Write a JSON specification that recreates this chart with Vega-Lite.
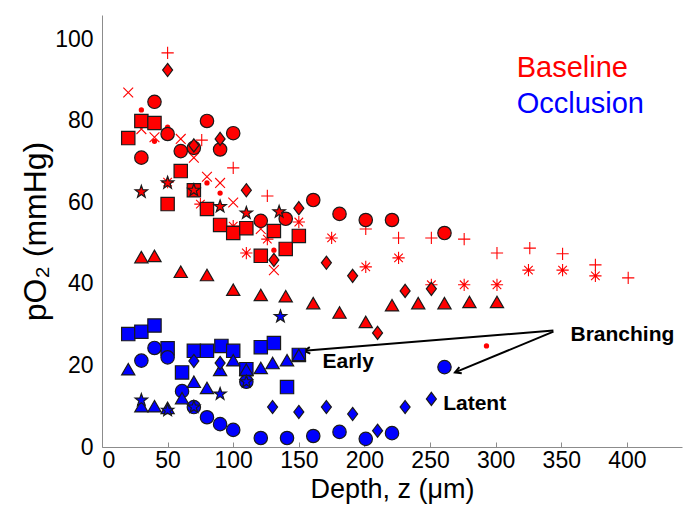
{
  "$schema": "https://vega.github.io/schema/vega-lite/v6.json",
  "autosize": "none",
  "width": 580,
  "height": 432,
  "padding": {"left": 102, "top": 15, "right": 4, "bottom": 70},
  "background": "white",
  "config": {"view": {"stroke": null}, "font": "Liberation Sans"},
  "datasets": {
    "pts": [
      {"group":"Baseline","marker":"circle","x":30,"y":71},
      {"group":"Baseline","marker":"circle","x":40,"y":84.7},
      {"group":"Baseline","marker":"circle","x":50,"y":76.8},
      {"group":"Baseline","marker":"circle","x":60,"y":72.6},
      {"group":"Baseline","marker":"circle","x":70,"y":73.4},
      {"group":"Baseline","marker":"circle","x":80,"y":80},
      {"group":"Baseline","marker":"circle","x":90,"y":73},
      {"group":"Baseline","marker":"circle","x":100,"y":77},
      {"group":"Baseline","marker":"circle","x":121,"y":55.5},
      {"group":"Baseline","marker":"circle","x":140,"y":56},
      {"group":"Baseline","marker":"circle","x":161,"y":60.6},
      {"group":"Baseline","marker":"circle","x":181,"y":57.2},
      {"group":"Baseline","marker":"circle","x":201,"y":55.7},
      {"group":"Baseline","marker":"circle","x":221,"y":55.7},
      {"group":"Baseline","marker":"circle","x":261,"y":52.5},
      {"group":"Baseline","marker":"square","x":20,"y":75.8},
      {"group":"Baseline","marker":"square","x":30,"y":80},
      {"group":"Baseline","marker":"square","x":40,"y":79.5},
      {"group":"Baseline","marker":"square","x":50,"y":59.6},
      {"group":"Baseline","marker":"square","x":60,"y":67.7},
      {"group":"Baseline","marker":"square","x":70,"y":63},
      {"group":"Baseline","marker":"square","x":80,"y":58.4},
      {"group":"Baseline","marker":"square","x":90,"y":54.5},
      {"group":"Baseline","marker":"square","x":100,"y":52.5},
      {"group":"Baseline","marker":"square","x":110,"y":53.7},
      {"group":"Baseline","marker":"square","x":121,"y":46.9},
      {"group":"Baseline","marker":"square","x":131,"y":53},
      {"group":"Baseline","marker":"square","x":140,"y":48.6},
      {"group":"Baseline","marker":"square","x":150,"y":51.8},
      {"group":"Baseline","marker":"triangle","x":30,"y":46.6},
      {"group":"Baseline","marker":"triangle","x":40,"y":46.9},
      {"group":"Baseline","marker":"triangle","x":60,"y":43},
      {"group":"Baseline","marker":"triangle","x":80,"y":42.2},
      {"group":"Baseline","marker":"triangle","x":100,"y":38.6},
      {"group":"Baseline","marker":"triangle","x":121,"y":37.3},
      {"group":"Baseline","marker":"triangle","x":140,"y":37},
      {"group":"Baseline","marker":"triangle","x":161,"y":35.3},
      {"group":"Baseline","marker":"triangle","x":181,"y":33},
      {"group":"Baseline","marker":"triangle","x":201,"y":30.7},
      {"group":"Baseline","marker":"triangle","x":221,"y":34.8},
      {"group":"Baseline","marker":"triangle","x":241,"y":35.3},
      {"group":"Baseline","marker":"triangle","x":261,"y":35.3},
      {"group":"Baseline","marker":"triangle","x":280,"y":35.6},
      {"group":"Baseline","marker":"triangle","x":301,"y":35.6},
      {"group":"Baseline","marker":"diamond","x":50,"y":92.5},
      {"group":"Baseline","marker":"diamond","x":70,"y":74},
      {"group":"Baseline","marker":"diamond","x":90,"y":75.6},
      {"group":"Baseline","marker":"diamond","x":110,"y":63},
      {"group":"Baseline","marker":"diamond","x":131,"y":45.9},
      {"group":"Baseline","marker":"diamond","x":150,"y":58.6},
      {"group":"Baseline","marker":"diamond","x":171,"y":45.2},
      {"group":"Baseline","marker":"diamond","x":191,"y":42},
      {"group":"Baseline","marker":"diamond","x":210,"y":28},
      {"group":"Baseline","marker":"diamond","x":231,"y":38.3},
      {"group":"Baseline","marker":"diamond","x":251,"y":38.8},
      {"group":"Baseline","marker":"star","x":30,"y":62.6},
      {"group":"Baseline","marker":"star","x":50,"y":64.8},
      {"group":"Baseline","marker":"star","x":70,"y":63},
      {"group":"Baseline","marker":"star","x":90,"y":59},
      {"group":"Baseline","marker":"star","x":110,"y":57.4},
      {"group":"Baseline","marker":"star","x":135,"y":57.7},
      {"group":"Baseline","marker":"plus","x":50,"y":96.7},
      {"group":"Baseline","marker":"plus","x":76,"y":75.3},
      {"group":"Baseline","marker":"plus","x":100,"y":68.5},
      {"group":"Baseline","marker":"plus","x":126,"y":61.6},
      {"group":"Baseline","marker":"plus","x":201,"y":53.5},
      {"group":"Baseline","marker":"plus","x":226,"y":51.3},
      {"group":"Baseline","marker":"plus","x":251,"y":51.3},
      {"group":"Baseline","marker":"plus","x":276,"y":51},
      {"group":"Baseline","marker":"plus","x":301,"y":47.6},
      {"group":"Baseline","marker":"plus","x":326,"y":48.8},
      {"group":"Baseline","marker":"plus","x":351,"y":47.4},
      {"group":"Baseline","marker":"plus","x":376,"y":44.7},
      {"group":"Baseline","marker":"plus","x":401,"y":41.5},
      {"group":"Baseline","marker":"cross","x":20,"y":87},
      {"group":"Baseline","marker":"cross","x":30,"y":78},
      {"group":"Baseline","marker":"cross","x":40,"y":76},
      {"group":"Baseline","marker":"cross","x":60,"y":75.6},
      {"group":"Baseline","marker":"cross","x":70,"y":71},
      {"group":"Baseline","marker":"cross","x":80,"y":66.3},
      {"group":"Baseline","marker":"cross","x":90,"y":64.8},
      {"group":"Baseline","marker":"cross","x":100,"y":60},
      {"group":"Baseline","marker":"cross","x":121,"y":53.5},
      {"group":"Baseline","marker":"cross","x":131,"y":43.4},
      {"group":"Baseline","marker":"asterisk","x":50,"y":65},
      {"group":"Baseline","marker":"asterisk","x":75,"y":59.6},
      {"group":"Baseline","marker":"asterisk","x":100,"y":54.2},
      {"group":"Baseline","marker":"asterisk","x":110,"y":47.6},
      {"group":"Baseline","marker":"asterisk","x":126,"y":51},
      {"group":"Baseline","marker":"asterisk","x":150,"y":55.2},
      {"group":"Baseline","marker":"asterisk","x":175,"y":51.3},
      {"group":"Baseline","marker":"asterisk","x":201,"y":44.2},
      {"group":"Baseline","marker":"asterisk","x":226,"y":46.4},
      {"group":"Baseline","marker":"asterisk","x":251,"y":39.8},
      {"group":"Baseline","marker":"asterisk","x":276,"y":39.8},
      {"group":"Baseline","marker":"asterisk","x":301,"y":39.8},
      {"group":"Baseline","marker":"asterisk","x":325,"y":43.4},
      {"group":"Baseline","marker":"asterisk","x":351,"y":43.4},
      {"group":"Baseline","marker":"asterisk","x":376,"y":42},
      {"group":"Baseline","marker":"dot","x":30,"y":82.7},
      {"group":"Baseline","marker":"dot","x":40,"y":75},
      {"group":"Baseline","marker":"dot","x":50,"y":78.5},
      {"group":"Baseline","marker":"dot","x":80,"y":64.8},
      {"group":"Baseline","marker":"dot","x":90,"y":62.3},
      {"group":"Baseline","marker":"dot","x":131,"y":48.3},
      {"group":"Baseline","marker":"dot","x":293,"y":24.8},
      {"group":"Occlusion","marker":"square","x":20,"y":27.7},
      {"group":"Occlusion","marker":"square","x":30,"y":28.3},
      {"group":"Occlusion","marker":"square","x":40,"y":29.8},
      {"group":"Occlusion","marker":"square","x":50,"y":24.2},
      {"group":"Occlusion","marker":"square","x":61,"y":18.3},
      {"group":"Occlusion","marker":"square","x":70,"y":23.6},
      {"group":"Occlusion","marker":"square","x":80,"y":23.6},
      {"group":"Occlusion","marker":"square","x":91,"y":24.8},
      {"group":"Occlusion","marker":"square","x":100,"y":23.6},
      {"group":"Occlusion","marker":"square","x":110,"y":19.1},
      {"group":"Occlusion","marker":"square","x":121,"y":24.5},
      {"group":"Occlusion","marker":"square","x":131,"y":25.5},
      {"group":"Occlusion","marker":"square","x":141,"y":14.7},
      {"group":"Occlusion","marker":"square","x":150,"y":22.6},
      {"group":"Occlusion","marker":"circle","x":30,"y":21.2},
      {"group":"Occlusion","marker":"circle","x":40,"y":24.3},
      {"group":"Occlusion","marker":"circle","x":50,"y":22},
      {"group":"Occlusion","marker":"circle","x":61,"y":13.7},
      {"group":"Occlusion","marker":"circle","x":70,"y":9.8},
      {"group":"Occlusion","marker":"circle","x":80,"y":7.3},
      {"group":"Occlusion","marker":"circle","x":90,"y":5.6},
      {"group":"Occlusion","marker":"circle","x":100,"y":4.2},
      {"group":"Occlusion","marker":"circle","x":110,"y":16},
      {"group":"Occlusion","marker":"circle","x":121,"y":2.2},
      {"group":"Occlusion","marker":"circle","x":141,"y":2.2},
      {"group":"Occlusion","marker":"circle","x":161,"y":2.7},
      {"group":"Occlusion","marker":"circle","x":181,"y":3.7},
      {"group":"Occlusion","marker":"circle","x":201,"y":2},
      {"group":"Occlusion","marker":"circle","x":221,"y":3.4},
      {"group":"Occlusion","marker":"circle","x":261,"y":19.6},
      {"group":"Occlusion","marker":"triangle","x":20,"y":19.1},
      {"group":"Occlusion","marker":"triangle","x":30,"y":10},
      {"group":"Occlusion","marker":"triangle","x":40,"y":10},
      {"group":"Occlusion","marker":"triangle","x":50,"y":9.6},
      {"group":"Occlusion","marker":"triangle","x":61,"y":12},
      {"group":"Occlusion","marker":"triangle","x":70,"y":16},
      {"group":"Occlusion","marker":"triangle","x":80,"y":14.5},
      {"group":"Occlusion","marker":"triangle","x":90,"y":18.9},
      {"group":"Occlusion","marker":"triangle","x":100,"y":21.3},
      {"group":"Occlusion","marker":"triangle","x":110,"y":19},
      {"group":"Occlusion","marker":"triangle","x":121,"y":19.4},
      {"group":"Occlusion","marker":"triangle","x":130,"y":20.6},
      {"group":"Occlusion","marker":"triangle","x":141,"y":21.3},
      {"group":"Occlusion","marker":"triangle","x":150,"y":22.6},
      {"group":"Occlusion","marker":"diamond","x":70,"y":21.1},
      {"group":"Occlusion","marker":"diamond","x":90,"y":20.6},
      {"group":"Occlusion","marker":"diamond","x":130,"y":9.8},
      {"group":"Occlusion","marker":"diamond","x":150,"y":8.6},
      {"group":"Occlusion","marker":"diamond","x":171,"y":9.8},
      {"group":"Occlusion","marker":"diamond","x":191,"y":8.1},
      {"group":"Occlusion","marker":"diamond","x":210,"y":4},
      {"group":"Occlusion","marker":"diamond","x":231,"y":9.8},
      {"group":"Occlusion","marker":"diamond","x":251,"y":11.8},
      {"group":"Occlusion","marker":"star","x":30,"y":11.5},
      {"group":"Occlusion","marker":"star","x":50,"y":9},
      {"group":"Occlusion","marker":"star","x":70,"y":9.8},
      {"group":"Occlusion","marker":"star","x":90,"y":13},
      {"group":"Occlusion","marker":"star","x":110,"y":16},
      {"group":"Occlusion","marker":"star","x":136,"y":32}
    ],
    "legend": [
      {"group":"Baseline","x":316,"y":93},
      {"group":"Occlusion","x":316,"y":84.2}
    ],
    "notes": [
      {"label":"Branching","x":357,"y":27.5},
      {"label":"Early","x":168,"y":20.9},
      {"label":"Latent","x":260,"y":10.6}
    ],
    "arrows": [
      {"label":"Early","x":344,"y":28.6,"x2":154,"y2":23.6},
      {"label":"Latent","x":344,"y":28.3,"x2":269,"y2":18.3}
    ]
  },
  "layer": [
    {
      "data": {"name": "arrows"},
      "mark": {"type": "rule", "color": "black", "strokeWidth": 2},
      "encoding": {
        "x": {"field": "x", "type": "quantitative", "scale": {"domain": [0, 442], "nice": false, "zero": false},
          "axis": {"orient": "bottom", "values": [0,50,100,150,200,250,300,350,400], "grid": false, "domainColor": "#8c8c8c", "tickColor": "#8c8c8c", "tickSize": -5, "labelPadding": 7, "labelFont": "Liberation Sans", "labelFontSize": 23, "labelColor": "black", "title": "Depth, z (μm)", "titleFont": "Liberation Sans", "titleFontSize": 27, "titleFontWeight": "normal", "titleColor": "black", "titlePadding": 4}},
        "y": {"field": "y", "type": "quantitative", "scale": {"domain": [0, 106], "nice": false, "zero": false},
          "axis": {"orient": "left", "values": [0,20,40,60,80,100], "grid": false, "domainColor": "#8c8c8c", "ticks": false, "labelPadding": 9, "labelFont": "Liberation Sans", "labelFontSize": 23, "labelColor": "black", "title": "pO₂ (mmHg)", "titleFont": "Liberation Sans", "titleFontSize": 32, "titleFontWeight": "normal", "titleColor": "black", "titlePadding": 2}},
        "x2": {"field": "x2"},
        "y2": {"field": "y2"}
      }
    },
    {
      "data": {"name": "arrows"},
      "transform": [{"filter": "datum.label === 'Early'"}],
      "mark": {"type": "point", "shape": "M -2 -1.1 L 0 0 L -2 1.1", "filled": false, "stroke": "black", "strokeWidth": 2, "size": 36, "angle": 175.7, "opacity": 1},
      "encoding": {
        "x": {"field": "x2", "type": "quantitative"},
        "y": {"field": "y2", "type": "quantitative"}
      }
    },
    {
      "data": {"name": "arrows"},
      "transform": [{"filter": "datum.label === 'Latent'"}],
      "mark": {"type": "point", "shape": "M -2 -1.1 L 0 0 L -2 1.1", "filled": false, "stroke": "black", "strokeWidth": 2, "size": 36, "angle": 158.7, "opacity": 1},
      "encoding": {
        "x": {"field": "x2", "type": "quantitative"},
        "y": {"field": "y2", "type": "quantitative"}
      }
    },
    {
      "data": {"name": "pts"},
      "transform": [{"filter": "indexof(['plus','cross','asterisk'], datum.marker) >= 0"}],
      "mark": {"type": "point", "filled": false, "strokeWidth": 1.1, "opacity": 1},
      "encoding": {
        "x": {"field": "x", "type": "quantitative"},
        "y": {"field": "y", "type": "quantitative"},
        "stroke": {"field": "group", "type": "nominal", "scale": {"domain": ["Baseline","Occlusion"], "range": ["#ff0000","#0000ff"]}, "legend": null},
        "shape": {"field": "marker", "type": "nominal", "scale": {"domain": ["plus","cross","asterisk"], "range": ["M -1 0 L 1 0 M 0 -1 L 0 1", "M -0.8 -0.8 L 0.8 0.8 M -0.8 0.8 L 0.8 -0.8", "M -1 0 L 1 0 M 0 -1 L 0 1 M -0.7 -0.7 L 0.7 0.7 M -0.7 0.7 L 0.7 -0.7"]}, "legend": null},
        "size": {"field": "marker", "type": "nominal", "scale": {"domain": ["plus","cross","asterisk"], "range": [150, 150, 120]}, "legend": null}
      }
    },
    {
      "data": {"name": "pts"},
      "transform": [{"filter": "datum.marker === 'dot'"}],
      "mark": {"type": "circle", "size": 28, "opacity": 1},
      "encoding": {
        "x": {"field": "x", "type": "quantitative"},
        "y": {"field": "y", "type": "quantitative"},
        "color": {"field": "group", "type": "nominal", "scale": {"domain": ["Baseline","Occlusion"], "range": ["#ff0000","#0000ff"]}, "legend": null}
      }
    },
    {
      "data": {"name": "pts"},
      "transform": [{"filter": "indexof(['circle','square','triangle','diamond','star'], datum.marker) >= 0"}],
      "mark": {"type": "point", "filled": true, "stroke": "#1a1a1a", "strokeWidth": 1.2, "opacity": 1},
      "encoding": {
        "x": {"field": "x", "type": "quantitative"},
        "y": {"field": "y", "type": "quantitative"},
        "fill": {"field": "group", "type": "nominal", "scale": {"domain": ["Baseline","Occlusion"], "range": ["#ff0000","#0000ff"]}, "legend": null},
        "shape": {"field": "marker", "type": "nominal", "scale": {"domain": ["circle","square","triangle","diamond","star"], "range": ["circle","square","triangle-up","M 0 -1 L 0.76 0 L 0 1 L -0.76 0 Z","M 0 -1 L 0.235 -0.324 L 0.951 -0.309 L 0.38 0.124 L 0.588 0.809 L 0 0.4 L -0.588 0.809 L -0.38 0.124 L -0.951 -0.309 L -0.235 -0.324 Z"]}, "legend": null},
        "size": {"field": "marker", "type": "nominal", "scale": {"domain": ["circle","square","triangle","diamond","star"], "range": [180, 170, 260, 250, 160]}, "legend": null}
      }
    },
    {
      "data": {"name": "legend"},
      "mark": {"type": "text", "align": "left", "baseline": "middle", "font": "Liberation Sans", "fontSize": 29},
      "encoding": {
        "x": {"field": "x", "type": "quantitative"},
        "y": {"field": "y", "type": "quantitative"},
        "text": {"field": "group"},
        "color": {"field": "group", "type": "nominal", "scale": {"domain": ["Baseline","Occlusion"], "range": ["#ff0000","#0000ff"]}, "legend": null}
      }
    },
    {
      "data": {"name": "notes"},
      "mark": {"type": "text", "align": "left", "baseline": "middle", "font": "Liberation Sans", "fontSize": 21, "fontWeight": "bold", "color": "black"},
      "encoding": {
        "x": {"field": "x", "type": "quantitative"},
        "y": {"field": "y", "type": "quantitative"},
        "text": {"field": "label"}
      }
    }
  ],
  "resolve": {"scale": {"shape": "independent", "size": "independent"}}
}
